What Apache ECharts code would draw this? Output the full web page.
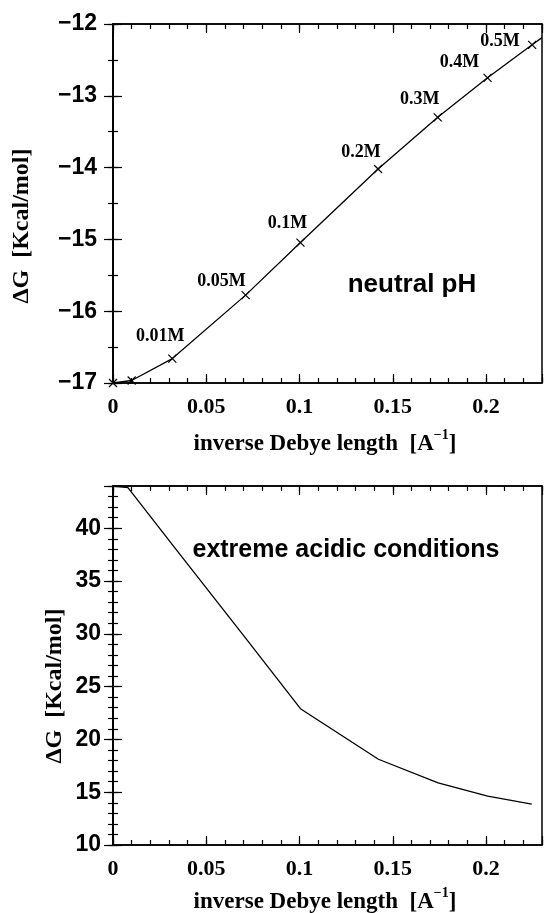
<!DOCTYPE html>
<html>
<head>
<meta charset="utf-8">
<script src="https://cdn.jsdelivr.net/npm/echarts@6/dist/echarts.min.js"></script>
<style>
html,body{margin:0;padding:0;background:#fff;}
#chart{width:545px;height:913px;}
</style>
</head>
<body>
<div id="chart"></div>
<script>
// ---- data ----
const topX = [0, 0.01, 0.0318, 0.0711, 0.1005, 0.1421, 0.1741, 0.2008, 0.2247, 0.23];
const topY = [-17, -16.965, -16.66, -15.776, -15.044, -14.02, -13.30, -12.75, -12.29, -12.19];
const topLabels = ['', '', '0.01M', '0.05M', '0.1M', '0.2M', '0.3M', '0.4M', '0.5M', ''];
const topMarked = [true, true, true, true, true, true, true, true, true, false];

const botX = [0, 0.008, 0.0318, 0.0711, 0.1005, 0.1423, 0.1743, 0.2009, 0.2245];
const botY = [44, 43.84, 38.45, 29.6, 22.91, 18.12, 15.88, 14.63, 13.87];

const xTitle = 'inverse Debye length  [A';
const xTitleSup = '\u22121';
const yTitle = '\u0394G  [Kcal/mol]';
const topNote = 'neutral pH';
const botNote = 'extreme acidic conditions';

// ---- styles ----
const SERIF = '"Liberation Serif", "Times New Roman", serif';
const SANS = '"Liberation Sans", Arial, sans-serif';
const labelOffsets = [null, null, [-12, -22], [-24, -14], [-13, -19], [-17, -17], [-18, -18], [-28, -16], [-32, -3], null];

const chart = echarts.init(document.getElementById('chart'), null, {renderer: 'canvas'});

function xFmt(v) {
  const k = v / 0.05;
  if (Math.abs(k - Math.round(k)) > 1e-6) return '';
  return String(+v.toFixed(2));
}
function yFmt(step) {
  return function (v) {
    const k = v / step;
    if (Math.abs(k - Math.round(k)) > 1e-6) return '';
    return v < 0 ? '\u2212' + Math.abs(v) : String(v);
  };
}

function xAxes(grid, min, max) {
  const line = {show: true, lineStyle: {color: '#000', width: 1.5}};
  return [
    {gridIndex: grid, type: 'value', position: 'bottom', min: min, max: max, interval: 0.05,
     axisLine: line, splitLine: {show: false},
     axisTick: {inside: true, length: 9, lineStyle: {color: '#000', width: 1.2}},
     axisLabel: {formatter: xFmt, color: '#000', fontFamily: SERIF, fontWeight: 'bold', fontSize: 22, margin: 13, showMaxLabel: true}},
    {gridIndex: grid, type: 'value', position: 'bottom', min: min, max: max, interval: 0.01,
     axisLine: {show: false}, splitLine: {show: false}, axisLabel: {show: false},
     axisTick: {inside: true, length: 5, lineStyle: {color: '#000', width: 1.2}}},
    {gridIndex: grid, type: 'value', position: 'top', min: min, max: max, interval: 0.05,
     axisLine: line, splitLine: {show: false}, axisLabel: {show: false},
     axisTick: {inside: true, length: 9, lineStyle: {color: '#000', width: 1.2}}},
    {gridIndex: grid, type: 'value', position: 'top', min: min, max: max, interval: 0.01,
     axisLine: {show: false}, splitLine: {show: false}, axisLabel: {show: false},
     axisTick: {inside: true, length: 5, lineStyle: {color: '#000', width: 1.2}}}
  ];
}
function yAxes(grid, min, max, major, minor, margin) {
  const line = {show: true, lineStyle: {color: '#000', width: 1.5}};
  return [
    {gridIndex: grid, type: 'value', position: 'left', min: min, max: max, interval: major,
     axisLine: line, splitLine: {show: false},
     axisTick: {inside: true, length: 9, lineStyle: {color: '#000', width: 1.2}},
     axisLabel: {formatter: yFmt(major), color: '#000', fontFamily: SANS, fontWeight: 'bold', fontSize: 23, margin: margin}},
    {gridIndex: grid, type: 'value', position: 'left', min: min, max: max, interval: minor,
     axisLine: {show: false}, splitLine: {show: false}, axisLabel: {show: false},
     axisTick: {inside: true, length: 5, lineStyle: {color: '#000', width: 1.2}}},
    {gridIndex: grid, type: 'value', position: 'right', min: min, max: max, interval: major,
     axisLine: line, splitLine: {show: false}, axisLabel: {show: false},
     axisTick: {inside: true, length: 9, lineStyle: {color: '#000', width: 1.2}}},
    {gridIndex: grid, type: 'value', position: 'right', min: min, max: max, interval: minor,
     axisLine: {show: false}, splitLine: {show: false}, axisLabel: {show: false},
     axisTick: {inside: true, length: 5, lineStyle: {color: '#000', width: 1.2}}}
  ];
}

const CROSS = 'path://M0,0L10,10M10,0L0,10';

const topData = topX.map(function (x, i) {
  const item = {value: [x, topY[i]], symbol: topMarked[i] ? CROSS : 'none'};
  if (topLabels[i]) {
    item.label = {show: true, formatter: topLabels[i], position: 'inside', offset: labelOffsets[i],
      color: '#000', fontFamily: SERIF, fontWeight: 'bold', fontSize: 18};
  }
  return item;
});
const botData = botX.map(function (x, i) { return [x, botY[i]]; });

function xTitleGraphic(cx, cy) {
  return {type: 'text', x: cx, y: cy, style: {
    text: '{m|' + xTitle + '}{s|' + xTitleSup + '}{m|]}',
    align: 'center', verticalAlign: 'middle',
    rich: {
      m: {fontFamily: SERIF, fontWeight: 'bold', fontSize: 23, fill: '#000', verticalAlign: 'bottom', lineHeight: 28},
      s: {fontFamily: SERIF, fontWeight: 'bold', fontSize: 14, fill: '#000', verticalAlign: 'top', lineHeight: 28}
    }
  }};
}
function yTitleGraphic(cx, cy) {
  return {type: 'text', x: cx, y: cy, rotation: Math.PI / 2, style: {
    text: yTitle, align: 'center', verticalAlign: 'middle',
    font: 'bold 24px ' + SERIF, fill: '#000'
  }};
}
function noteGraphic(text, cx, cy, size) {
  return {type: 'text', x: cx, y: cy, style: {
    text: text, align: 'center', verticalAlign: 'middle',
    font: 'bold ' + size + 'px ' + SANS, fill: '#000'
  }};
}

const option = {
  animation: false,
  backgroundColor: '#fff',
  grid: [
    {left: 113, top: 24, right: 1, height: 359, show: true, borderColor: '#000', borderWidth: 1.5, backgroundColor: 'transparent'},
    {left: 113, top: 486, right: 1, height: 359, show: true, borderColor: '#000', borderWidth: 1.5, backgroundColor: 'transparent'}
  ],
  xAxis: xAxes(0, 0, 0.23).concat(xAxes(1, 0, 0.23)),
  yAxis: yAxes(0, -17, -12, 1, 0.5, 16).concat(yAxes(1, 10, 44, 5, 1, 12)),
  series: [
    {type: 'line', xAxisIndex: 0, yAxisIndex: 0, data: topData, showAllSymbol: true,
     symbolSize: 8, clip: true,
     lineStyle: {color: '#000', width: 1.3},
     itemStyle: {color: '#000', borderColor: '#000', borderWidth: 1.2}},
    {type: 'line', xAxisIndex: 4, yAxisIndex: 4, data: botData, showSymbol: false, clip: true,
     lineStyle: {color: '#000', width: 1.3}}
  ],
  graphic: [
    xTitleGraphic(325, 442),
    xTitleGraphic(325, 900),
    yTitleGraphic(22, 226),
    yTitleGraphic(55, 686),
    noteGraphic(topNote, 412, 285, 26),
    noteGraphic(botNote, 346, 550, 25)
  ]
};
chart.setOption(option);
</script>
</body>
</html>
